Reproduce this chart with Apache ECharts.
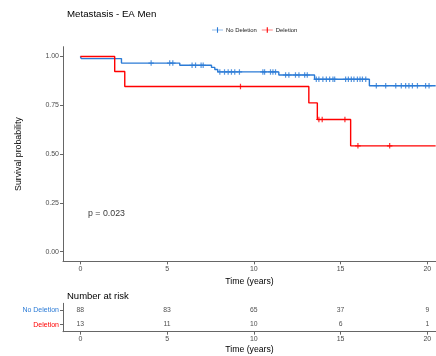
<!DOCTYPE html>
<html>
<head>
<meta charset="utf-8">
<script src="https://cdn.jsdelivr.net/npm/echarts@6/dist/echarts.min.js"></script>
<style>
  html, body { margin: 0; padding: 0; background: #fff; }
  #chart { width: 436px; height: 356px; }
</style>
</head>
<body>
<div id="chart"></div>
<script>
// Kaplan-Meier steps: [time (years), survival after the event]
const noDeletionSteps = [
  [0, 1], [0.05, 0.989], [2.37, 0.966], [5.73, 0.955], [7.56, 0.944],
  [7.75, 0.933], [7.92, 0.921], [11.44, 0.905], [13.5, 0.883],
  [16.66, 0.85], [20.48, 0.85]
];
const deletionSteps = [
  [0, 1], [1.98, 0.923], [2.56, 0.846], [13.17, 0.762], [13.66, 0.677],
  [15.58, 0.542], [20.48, 0.542]
];
// Censoring times (years)
const noDeletionCensored = [
  4.08, 5.15, 5.33, 6.44, 6.64, 6.96, 7.08, 8.04, 8.31, 8.52, 8.71, 8.9, 9.17,
  10.52, 10.62, 10.96, 11.1, 11.25, 11.83, 12.02, 12.4, 12.6, 12.93, 13.08,
  13.6, 13.75, 13.98, 14.18, 14.37, 14.56, 14.66, 15.29, 15.45, 15.62, 15.77,
  15.97, 16.12, 16.26, 16.45, 17.06, 17.6, 18.18, 18.5, 18.75, 18.94, 19.14,
  19.43, 19.9, 20.1
];
const deletionCensored = [9.23, 13.75, 13.94, 15.25, 16.0, 17.83];

// Number at risk table
const riskTimes = [0, 5, 10, 15, 20];
const noDeletionAtRisk = [88, 83, 65, 37, 9];
const deletionAtRisk = [13, 11, 10, 6, 1];

const groups = ['No Deletion', 'Deletion'];
const timeTicks = [0, 5, 10, 15, 20];
const survTicks = [0, 0.25, 0.5, 0.75, 1];
const pValueText = 'p = 0.023';
const pValuePos = [0.44, 0.193];

const BLUE = '#2b7bd6';
const RED = '#ff0000';
const AXIS = '#666666';
const TICKTXT = '#4d4d4d';
const FONT = '"Liberation Sans", Arial, sans-serif';

// survival value at time t from a step table
function survAt(steps, t) {
  let s = steps[0][1];
  for (const [x, y] of steps) { if (x <= t) s = y; else break; }
  return s;
}

const plusPath = 'path://M3.9,0H6.1V10H3.9Z M0,3.9H10V6.1H0Z';
const legendIcon = 'path://M0,4.4H20V5.6H0Z M9,0H11V10H9Z';

const chart = echarts.init(document.getElementById('chart'), null, { renderer: 'canvas' });

// axes sit on the grid edges, not at the zero of the other axis
const axisLineStyle = { show: true, onZero: false, lineStyle: { color: AXIS, width: 1 } };
const tickStyle = { show: true, length: 3, lineStyle: { color: AXIS, width: 1 } };
// invisible anchor used only to place text labels
const hiddenAnchor = { color: 'rgba(0,0,0,0)' };

chart.setOption({
  animation: false,
  textStyle: { fontFamily: FONT },
  title: [
    { text: 'Metastasis - EA Men', left: 62, top: 4,
      textStyle: { fontSize: 9.7, fontWeight: 'normal', color: '#000', fontFamily: FONT } },
    { text: 'Number at risk', left: 62, top: 286,
      textStyle: { fontSize: 9.5, fontWeight: 'normal', color: '#000', fontFamily: FONT } }
  ],
  legend: {
    left: 212, top: 27, padding: 0, itemGap: 5, itemWidth: 11, itemHeight: 7,
    textStyle: { fontSize: 5.9, color: '#222', fontFamily: FONT, padding: [0, 0, 0, -2] },
    data: [
      { name: groups[0], icon: legendIcon, itemStyle: { color: BLUE } },
      { name: groups[1], icon: legendIcon, itemStyle: { color: RED } }
    ]
  },
  grid: [
    { left: 63, right: 0, top: 46.7, height: 214.7 },
    { left: 63, right: 0, top: 303.3, height: 28.4 }
  ],
  xAxis: [
    {
      gridIndex: 0, type: 'value', min: -1, max: 20.5,
      name: 'Time (years)', nameLocation: 'middle', nameGap: 12.5,
      nameTextStyle: { fontSize: 8.7, color: '#000', fontFamily: FONT },
      axisLine: axisLineStyle, axisTick: Object.assign({ customValues: timeTicks }, tickStyle),
      axisLabel: { customValues: timeTicks, fontSize: 7, color: TICKTXT, margin: 4, fontFamily: FONT },
      splitLine: { show: false }
    },
    {
      gridIndex: 1, type: 'value', min: -1, max: 20.5,
      name: 'Time (years)', nameLocation: 'middle', nameGap: 13,
      nameTextStyle: { fontSize: 8.7, color: '#000', fontFamily: FONT },
      axisLine: axisLineStyle, axisTick: Object.assign({ customValues: timeTicks }, tickStyle),
      axisLabel: { customValues: timeTicks, fontSize: 7, color: TICKTXT, margin: 4, fontFamily: FONT },
      splitLine: { show: false }
    }
  ],
  yAxis: [
    {
      gridIndex: 0, type: 'value', min: -0.05, max: 1.05,
      name: 'Survival probability', nameLocation: 'middle', nameGap: 40,
      nameTextStyle: { fontSize: 8.8, color: '#000', fontFamily: FONT },
      axisLine: axisLineStyle, axisTick: Object.assign({ customValues: survTicks }, tickStyle),
      axisLabel: { customValues: survTicks, fontSize: 7, color: TICKTXT, margin: 4,
        fontFamily: FONT, formatter: v => v.toFixed(2) },
      splitLine: { show: false }
    },
    {
      gridIndex: 1, type: 'category', data: groups.slice().reverse(),
      axisLine: axisLineStyle, axisTick: Object.assign({ alignWithLabel: true }, tickStyle),
      axisLabel: {
        margin: 4, fontSize: 7, fontFamily: FONT,
        formatter: v => v === groups[0] ? '{a|' + v + '}' : '{b|' + v + '}',
        rich: {
          a: { color: BLUE, fontSize: 7, fontFamily: FONT },
          b: { color: RED, fontSize: 7, fontFamily: FONT }
        }
      },
      splitLine: { show: false }
    }
  ],
  series: [
    {
      name: groups[0], type: 'line', step: 'end', xAxisIndex: 0, yAxisIndex: 0,
      data: noDeletionSteps, showSymbol: false, symbol: 'none',
      lineStyle: { color: BLUE, width: 1.4 }, itemStyle: { color: BLUE }
    },
    {
      name: groups[1], type: 'line', step: 'end', xAxisIndex: 0, yAxisIndex: 0,
      data: deletionSteps, showSymbol: false, symbol: 'none',
      lineStyle: { color: RED, width: 1.4 }, itemStyle: { color: RED }
    },
    {
      name: 'censor-nd', type: 'scatter', xAxisIndex: 0, yAxisIndex: 0,
      symbol: plusPath, symbolSize: 5.5, itemStyle: { color: BLUE },
      data: noDeletionCensored.map(t => [t, survAt(noDeletionSteps, t)])
    },
    {
      name: 'censor-d', type: 'scatter', xAxisIndex: 0, yAxisIndex: 0,
      symbol: plusPath, symbolSize: 5.5, itemStyle: { color: RED },
      data: deletionCensored.map(t => [t, survAt(deletionSteps, t)])
    },
    {
      name: 'pvalue', type: 'scatter', xAxisIndex: 0, yAxisIndex: 0,
      symbolSize: 1, itemStyle: hiddenAnchor,
      data: [pValuePos],
      label: { show: true, position: 'inside', align: 'left', formatter: pValueText,
        fontSize: 8.8, color: '#000', fontFamily: FONT }
    },
    {
      name: 'risk-nd', type: 'scatter', xAxisIndex: 1, yAxisIndex: 1,
      symbolSize: 1, itemStyle: hiddenAnchor,
      data: riskTimes.map((t, i) => [t, groups[0], noDeletionAtRisk[i]]),
      label: { show: true, position: 'inside', formatter: p => String(p.data[2]),
        fontSize: 6.8, color: '#222', fontFamily: FONT }
    },
    {
      name: 'risk-d', type: 'scatter', xAxisIndex: 1, yAxisIndex: 1,
      symbolSize: 1, itemStyle: hiddenAnchor,
      data: riskTimes.map((t, i) => [t, groups[1], deletionAtRisk[i]]),
      label: { show: true, position: 'inside', formatter: p => String(p.data[2]),
        fontSize: 6.8, color: '#222', fontFamily: FONT }
    }
  ]
});
</script>
</body>
</html>
